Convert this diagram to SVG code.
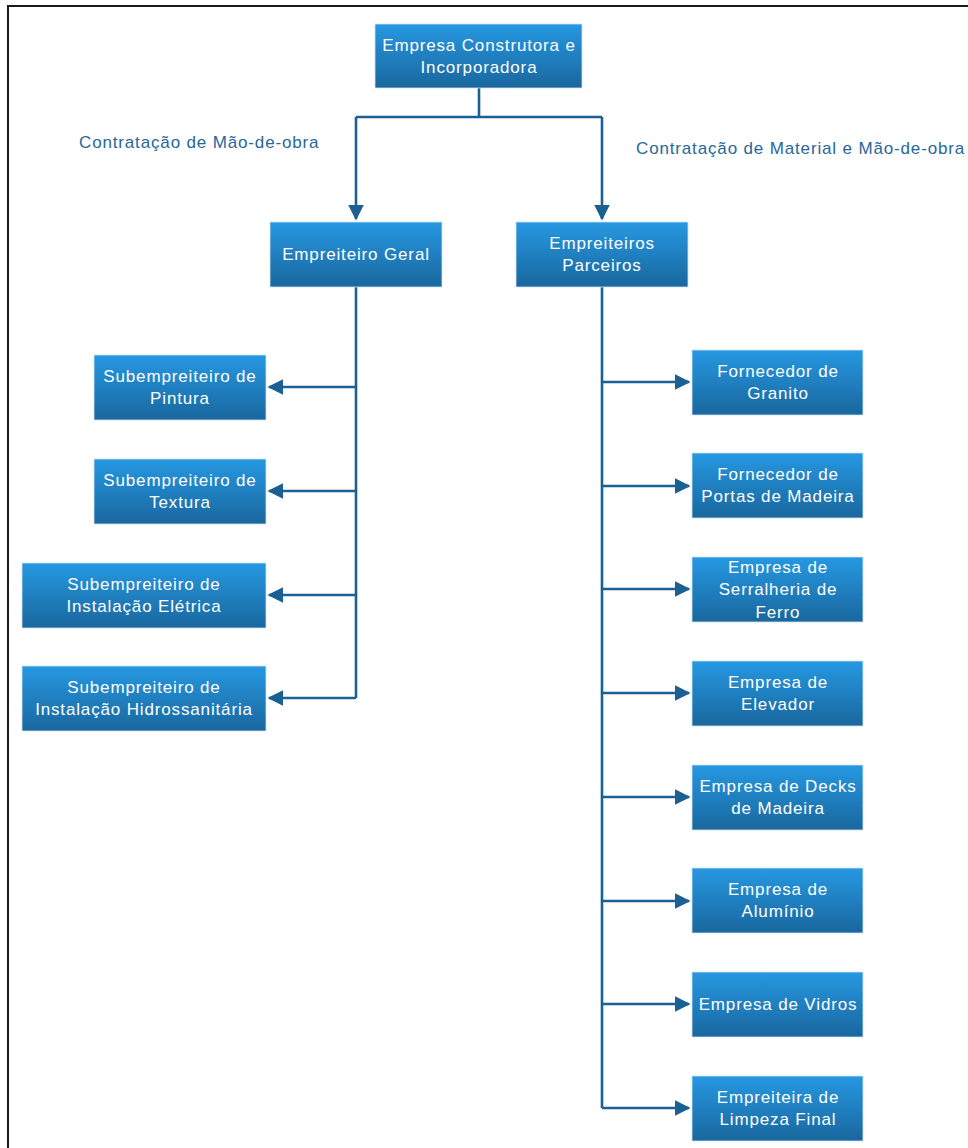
<svg xmlns="http://www.w3.org/2000/svg" width="968" height="1148" viewBox="0 0 968 1148">
<defs>
<linearGradient id="g" x1="0" y1="0" x2="0" y2="1">
<stop offset="0" stop-color="#2698e2"/>
<stop offset="1" stop-color="#19679e"/>
</linearGradient>
<marker id="a" viewBox="0 0 10 10" refX="9" refY="5" markerWidth="6" markerHeight="6" markerUnits="strokeWidth" orient="auto">
<path d="M0,0 L10,5 L0,10 z" fill="#1b6093"/>
</marker>
<style>
.b{fill:url(#g);stroke:#cfe3f2;stroke-width:0.8}
.t{font-family:"Liberation Sans",Arial,sans-serif;font-size:17px;letter-spacing:0.85px;fill:#ffffff;text-anchor:middle;dominant-baseline:central}
.l{font-family:"Liberation Sans",Arial,sans-serif;font-size:17px;letter-spacing:0.85px;fill:#27679b}
.c{fill:none;stroke:#1b6093;stroke-width:2.6}
.ar{marker-end:url(#a)}
</style>
</defs>
<rect x="8" y="6" width="990" height="1170" fill="#ffffff" stroke="#1a1a1a" stroke-width="2"/>
<text class="l" x="79" y="148">Contratação de Mão-de-obra</text>
<text class="l" x="636" y="154">Contratação de Material e Mão-de-obra</text>
<g id="connectors">
<path class="c" d="M479,88 V117 M356,117 H602"/>
<path class="c ar" d="M356,117 V219"/>
<path class="c ar" d="M602,117 V219"/>
<path class="c" d="M356,287 V698"/>
<path class="c ar" d="M356,387 H269"/>
<path class="c ar" d="M356,491 H269"/>
<path class="c ar" d="M356,595 H269"/>
<path class="c ar" d="M356,698 H269"/>
<path class="c" d="M602,287 V1108"/>
<path class="c ar" d="M602,382 H689"/>
<path class="c ar" d="M602,486 H689"/>
<path class="c ar" d="M602,589 H689"/>
<path class="c ar" d="M602,693 H689"/>
<path class="c ar" d="M602,797 H689"/>
<path class="c ar" d="M602,901 H689"/>
<path class="c ar" d="M602,1004 H689"/>
<path class="c ar" d="M602,1108 H689"/>
</g>
<g id="n-top"><rect class="b" x="375" y="24" width="207" height="64"/><text class="t" x="479" y="45">Empresa Construtora e</text><text class="t" x="479" y="67">Incorporadora</text></g>
<g id="n-geral"><rect class="b" x="270" y="222" width="172" height="65"/><text class="t" x="356" y="254.5">Empreiteiro Geral</text></g>
<g id="n-parceiros"><rect class="b" x="516" y="222" width="172" height="65"/><text class="t" x="602" y="243.5">Empreiteiros</text><text class="t" x="602" y="265.5">Parceiros</text></g>
<g id="n-pintura"><rect class="b" x="94" y="355" width="172" height="65"/><text class="t" x="180" y="376.5">Subempreiteiro de</text><text class="t" x="180" y="398.5">Pintura</text></g>
<g id="n-textura"><rect class="b" x="94" y="459" width="172" height="65"/><text class="t" x="180" y="480.5">Subempreiteiro de</text><text class="t" x="180" y="502.5">Textura</text></g>
<g id="n-eletrica"><rect class="b" x="22" y="563" width="244" height="65"/><text class="t" x="144" y="584.5">Subempreiteiro de</text><text class="t" x="144" y="606.5">Instalação Elétrica</text></g>
<g id="n-hidro"><rect class="b" x="22" y="666" width="244" height="65"/><text class="t" x="144" y="687.5">Subempreiteiro de</text><text class="t" x="144" y="709.5">Instalação Hidrossanitária</text></g>
<g id="n-granito"><rect class="b" x="692" y="350" width="171" height="65"/><text class="t" x="778" y="371.5">Fornecedor de</text><text class="t" x="778" y="393.5">Granito</text></g>
<g id="n-portas"><rect class="b" x="692" y="453" width="171" height="65"/><text class="t" x="778" y="474.5">Fornecedor de</text><text class="t" x="778" y="496.5">Portas de Madeira</text></g>
<g id="n-serralheria"><rect class="b" x="692" y="557" width="171" height="65"/><text class="t" x="778" y="567">Empresa de</text><text class="t" x="778" y="589.5">Serralheria de</text><text class="t" x="778" y="612">Ferro</text></g>
<g id="n-elevador"><rect class="b" x="692" y="661" width="171" height="65"/><text class="t" x="778" y="682.5">Empresa de</text><text class="t" x="778" y="704.5">Elevador</text></g>
<g id="n-decks"><rect class="b" x="692" y="765" width="171" height="65"/><text class="t" x="778" y="786.5">Empresa de Decks</text><text class="t" x="778" y="808.5">de Madeira</text></g>
<g id="n-aluminio"><rect class="b" x="692" y="868" width="171" height="65"/><text class="t" x="778" y="889.5">Empresa de</text><text class="t" x="778" y="911.5">Alumínio</text></g>
<g id="n-vidros"><rect class="b" x="692" y="972" width="171" height="65"/><text class="t" x="778" y="1004.5">Empresa de Vidros</text></g>
<g id="n-limpeza"><rect class="b" x="692" y="1076" width="171" height="65"/><text class="t" x="778" y="1097.5">Empreiteira de</text><text class="t" x="778" y="1119.5">Limpeza Final</text></g>
</svg>
